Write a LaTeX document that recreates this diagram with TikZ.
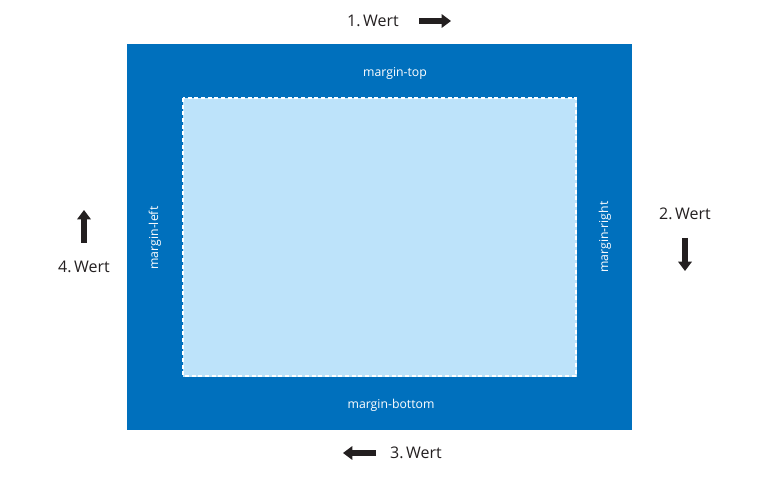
\documentclass[tikz,border=0pt]{standalone}
\usepackage{fontspec}
\setmainfont{Open Sans}
\usepackage{tikz}
\usetikzlibrary{arrows.meta}
\definecolor{boxblue}{HTML}{0070BD}
\definecolor{innerblue}{HTML}{BDE3FA}
\definecolor{arrowblack}{HTML}{231F20}

\begin{document}
\begin{tikzpicture}[x=0.75pt, y=-0.75pt, every node/.style={font=\fontsize{12}{14}\selectfont, text=arrowblack, inner sep=0pt}, >={Triangle[length=7pt, width=10pt]}, wert/.style={->, line width=4pt, arrowblack}, lbl/.style={font=\fontsize{9.2}{11}\selectfont, text=white}]
	\useasboundingbox (0,0) rectangle (760,477);
	% margin box and content area
	\fill[boxblue] (127,44) rectangle (632,430);
	\draw[innerblue, fill=innerblue] (183,98) rectangle (576,376);
	\draw[white, dashed, line width=0.8pt, dash pattern=on 3pt off 2pt] (183,98) rectangle (576,376);
	\node[lbl] (top) at (395,73) {margin-top};
	\node[lbl] (bottom) at (391,405) {margin-bottom};
	\node[lbl, rotate=90] (left) at (155,238) {margin-left};
	\node[lbl, rotate=90] (right) at (605,237) {margin-right};
	% order of the values
	\node (w1) at (373,21) {1.\,Wert};
	\node (w2) at (685,214) {2.\,Wert};
	\node (w3) at (416,453) {3.\,Wert};
	\node (w4) at (84,267) {4.\,Wert};
	\coordinate (a1) at (419,21);
	\coordinate (b1) at (451,21);
	\coordinate (a2) at (685,238);
	\coordinate (b2) at (685,271);
	\coordinate (a3) at (376,453);
	\coordinate (b3) at (343,453);
	\coordinate (a4) at (84,243);
	\coordinate (b4) at (84,210);
	\draw[wert] (a1) -- (b1);
	\draw[wert] (a2) -- (b2);
	\draw[wert] (a3) -- (b3);
	\draw[wert] (a4) -- (b4);
\end{tikzpicture}
\end{document}
